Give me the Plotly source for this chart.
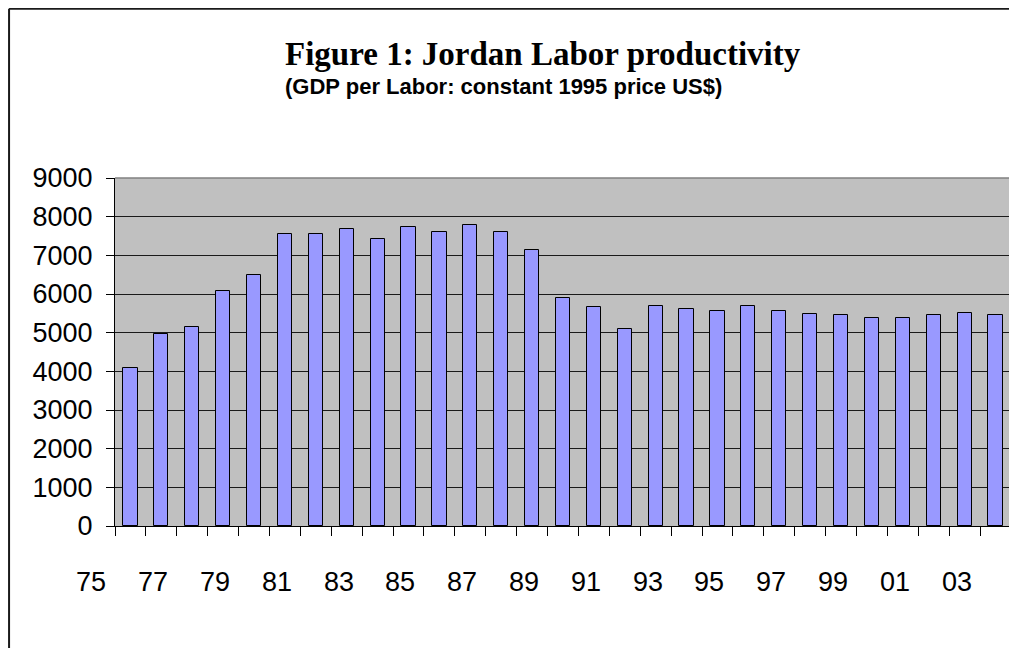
"""Jordan labor productivity bar chart, Excel-style look."""

import plotly.graph_objects as go

YEARS = list(range(1976, 2005))
PRODUCTIVITY = [
    4090, 4970, 5150, 6090, 6490, 7540, 7540, 7670, 7435, 7720,
    7610, 7780, 7610, 7130, 5905, 5675, 5085, 5680, 5615, 5555,
    5680, 5555, 5490, 5450, 5380, 5380, 5450, 5500, 5450,
]
LABEL_YEARS = list(range(1975, 2004, 2))
LABEL_TEXT = ["75", "77", "79", "81", "83", "85", "87", "89", "91", "93", "95", "97", "99", "01", "03"]
Y_TICKS = list(range(0, 9001, 1000))

TITLE = "Figure 1: Jordan Labor productivity"
SUBTITLE = "(GDP per Labor: constant 1995 price US$)"

PAGE_OFFSET = 8  # body margin of the html page
WIDTH, HEIGHT = 1009, 640
MARGIN = {"l": 106.5, "r": 6, "t": 170, "b": 122.3, "pad": 0}
LABEL_XSHIFT = -39  # the Excel category labels sit left of their bars
SANS = "Liberation Sans, Arial, sans-serif"
SERIF = "Liberation Serif, Times New Roman, serif"


def paper_x(page_px: float) -> float:
    plot_w = WIDTH - MARGIN["l"] - MARGIN["r"]
    return (page_px - PAGE_OFFSET - MARGIN["l"]) / plot_w


def paper_y(page_py: float) -> float:
    plot_h = HEIGHT - MARGIN["t"] - MARGIN["b"]
    return 1 + (MARGIN["t"] - (page_py - PAGE_OFFSET)) / plot_h


x_range = [YEARS[0] - 0.5, YEARS[-1] + 0.5]

fig = go.Figure()
fig.add_trace(
    go.Bar(
        x=YEARS,
        y=PRODUCTIVITY,
        width=0.46,
        marker={"color": "#9999ff", "line": {"color": "#000000", "width": 1}},
        showlegend=False,
    )
)

fig.update_layout(
    width=WIDTH,
    height=HEIGHT,
    margin=MARGIN,
    paper_bgcolor="#ffffff",
    plot_bgcolor="#c0c0c0",
    bargap=0,
    xaxis={
        "range": x_range,
        "tickmode": "linear",
        "tick0": YEARS[0] - 0.5,
        "dtick": 1,
        "ticks": "outside",
        "ticklen": 9,
        "tickcolor": "#000000",
        "showticklabels": False,
        "showgrid": False,
        "zeroline": False,
        "showline": True,
        "linecolor": "#000000",
        "linewidth": 1,
    },
    yaxis={
        "range": [0, 9000],
        "tickmode": "array",
        "tickvals": Y_TICKS,
        "ticks": "outside",
        "ticklen": 8,
        "tickcolor": "#000000",
        "ticklabelstandoff": 8,
        "tickfont": {"family": SANS, "size": 27, "color": "#000000"},
        "showgrid": True,
        "gridcolor": "#1a1a1a",
        "gridwidth": 1,
        "zeroline": False,
        "showline": True,
        "linecolor": "#000000",
        "linewidth": 1,
    },
    font={"family": SANS, "color": "#000000"},
)

# category labels: each one hangs off the bar that follows its year,
# pushed left the way the original sheet draws them
for year, text in zip(LABEL_YEARS, LABEL_TEXT):
    fig.add_annotation(
        text=text, xref="x", yref="paper", x=year + 1, xshift=LABEL_XSHIFT,
        y=paper_y(582), xanchor="center", yanchor="middle", showarrow=False,
        font={"family": SANS, "size": 27, "color": "#000000"},
    )

# gray top/right edge of the plot area
fig.add_shape(type="line", xref="paper", yref="paper", x0=0, x1=1, y0=1, y1=1,
              line={"color": "#808080", "width": 1.5})
fig.add_shape(type="line", xref="paper", yref="paper", x0=1, x1=1, y0=0, y1=1,
              line={"color": "#808080", "width": 1.5})

# chart-area frame (only left and top edges are inside the picture)
fig.add_shape(type="line", xref="paper", yref="paper",
              x0=paper_x(8.5), x1=paper_x(8.5), y0=paper_y(9), y1=paper_y(660),
              line={"color": "#1a1a1a", "width": 2})
fig.add_shape(type="line", xref="paper", yref="paper",
              x0=paper_x(8.5), x1=paper_x(1016), y0=paper_y(9), y1=paper_y(9),
              line={"color": "#1a1a1a", "width": 2})

fig.add_annotation(
    text=f"<b>{TITLE}</b>", xref="paper", yref="paper",
    x=paper_x(543), y=paper_y(54), xanchor="center", yanchor="middle",
    showarrow=False, font={"family": SERIF, "size": 33, "color": "#000000"},
)
fig.add_annotation(
    text=f"<b>{SUBTITLE}</b>", xref="paper", yref="paper",
    x=paper_x(503), y=paper_y(87), xanchor="center", yanchor="middle",
    showarrow=False, font={"family": SANS, "size": 22, "color": "#000000"},
)

fig.write_html("out.html")
